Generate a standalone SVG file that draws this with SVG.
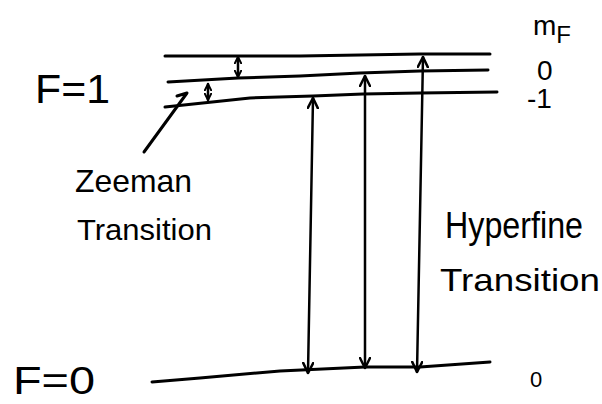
<svg xmlns="http://www.w3.org/2000/svg" width="602" height="404" viewBox="0 0 602 404">
<style>
.ln{fill:none;stroke:#000;stroke-width:3;stroke-linecap:round;stroke-linejoin:round}
.ar{fill:none;stroke:#000;stroke-width:2.5;stroke-linecap:round}
.tx{font-family:"Liberation Sans","DejaVu Sans",sans-serif;fill:#000}
</style>
<defs>
<marker id="v" viewBox="0 0 12 12" refX="11" refY="6" markerWidth="12" markerHeight="12" markerUnits="userSpaceOnUse" orient="auto-start-reverse">
<path d="M1,1 L11,6 L1,11" fill="none" stroke="#000" stroke-width="2.5" stroke-linecap="round"/>
</marker>
<marker id="vs" viewBox="0 0 10 10" refX="9" refY="5" markerWidth="8" markerHeight="8" markerUnits="userSpaceOnUse" orient="auto-start-reverse">
<path d="M1,1 L9,5 L1,9" fill="none" stroke="#000" stroke-width="2.5" stroke-linecap="round"/>
</marker>
</defs>
<g id="level-F1-m1">
<polyline class="ln" points="165,56 300,56 420,54 490,54"/>
</g>
<g id="level-F1-m0">
<polyline class="ln" points="168,82 238,78 300,76 360,73 420,71 488,70"/>
</g>
<g id="level-F1-mminus1">
<polyline class="ln" points="165,107 250,98 313,96 363,94 420,93 497,92"/>
</g>
<g id="level-F0">
<polyline class="ln" points="152,382 200,378 280,371 365,367 420,367 490,362"/>
</g>
<g id="connectors">
<line class="ar" x1="238" y1="57" x2="238" y2="77" marker-start="url(#vs)" marker-end="url(#vs)"/>
<line class="ar" x1="208" y1="84" x2="208" y2="100" marker-start="url(#vs)" marker-end="url(#vs)"/>
<line class="ar" x1="313" y1="98" x2="308" y2="373" marker-start="url(#v)" marker-end="url(#v)"/>
<line class="ar" x1="365" y1="76" x2="365" y2="368" marker-start="url(#v)" marker-end="url(#v)"/>
<line class="ar" x1="423" y1="57" x2="417" y2="372" marker-start="url(#v)" marker-end="url(#v)"/>
<polyline class="ln" points="144,152 187,93 177,96"/>
</g>
<g id="labels">
<text class="tx" x="35" y="103" font-size="40" textLength="75" lengthAdjust="spacingAndGlyphs">F=1</text>
<text class="tx" x="13" y="394" font-size="38" textLength="82" lengthAdjust="spacingAndGlyphs">F=0</text>
<text class="tx" x="533" y="35" font-size="28">m<tspan font-size="24" dy="8">F</tspan></text>
<text class="tx" x="537" y="80" font-size="28">0</text>
<text class="tx" x="527" y="108" font-size="28">-1</text>
<text class="tx" x="530" y="387" font-size="22">0</text>
<text class="tx" x="75" y="192" font-size="32" textLength="117" lengthAdjust="spacingAndGlyphs">Zeeman</text>
<text class="tx" x="77" y="240" font-size="30" textLength="135" lengthAdjust="spacingAndGlyphs">Transition</text>
<text class="tx" x="445" y="238" font-size="36" textLength="138" lengthAdjust="spacingAndGlyphs">Hyperfine</text>
<text class="tx" x="440" y="291" font-size="32" textLength="160" lengthAdjust="spacingAndGlyphs">Transition</text>
</g>
</svg>
